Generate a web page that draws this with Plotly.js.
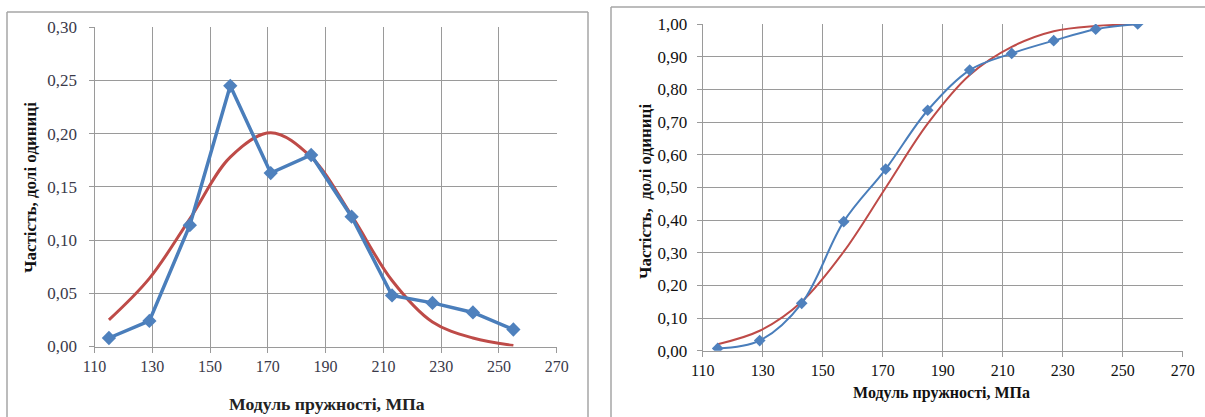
<!DOCTYPE html>
<html><head><meta charset="utf-8">
<script src="https://cdn.plot.ly/plotly-3.0.1.min.js"></script>
<style>body{margin:0;background:#fff}#c{width:1205px;height:417px}
#c svg text{font-family:'Liberation Serif' !important}</style></head>
<body><div id="c"></div><script>
const modulus = [115,129,143,157,171,185,199,213,227,241,255];
const freqObserved = [0.008,0.024,0.114,0.245,0.163,0.180,0.122,0.048,0.041,0.032,0.016];
const freqTheoretical = [0.025,0.064,0.120,0.178,0.201,0.178,0.123,0.062,0.023,0.008,0.001];
const cumObserved = [0.007,0.031,0.145,0.395,0.556,0.736,0.859,0.910,0.949,0.984,1.000];
const cumTheoretical = [0.020,0.061,0.150,0.303,0.499,0.695,0.844,0.930,0.978,0.994,0.999];
const xTickVals = [110,130,150,170,190,210,230,250,270];
const xTitle = 'Модуль пружності, МПа';
const yTitleLeft = 'Частість, долі одиниці';
const yTitleRight = 'Частість,  долі одиниці';

const W = 1205, H = 417;
const px = v => v / W, py = v => (H - v) / H;
const BLUE = '#4A7EBB', BLUE_M = '#4F81BD', RED = '#BE4B48';
const GRID = '#9a9a9a', FRAME = '#a6a6a6';
const serif = 'Liberation Serif';

const traces = [
  {x: modulus, y: freqTheoretical, xaxis: 'x', yaxis: 'y', mode: 'lines',
   line: {color: RED, width: 3, shape: 'spline', smoothing: 1}},
  {x: modulus, y: freqObserved, xaxis: 'x', yaxis: 'y', mode: 'lines+markers',
   line: {color: BLUE, width: 3.5}, marker: {symbol: 'diamond', size: 11, color: BLUE_M}},
  {x: modulus, y: cumTheoretical, xaxis: 'x2', yaxis: 'y2', mode: 'lines',
   line: {color: RED, width: 2, shape: 'spline', smoothing: 1}},
  {x: modulus, y: cumObserved, xaxis: 'x2', yaxis: 'y2', mode: 'lines+markers',
   line: {color: BLUE, width: 2, shape: 'spline', smoothing: 1}, marker: {symbol: 'diamond', size: 9, color: BLUE_M}}
];

function xax(domain, anchor, col) {
  return {domain, anchor, range: [110, 270], tickvals: xTickVals, ticks: 'outside', ticklen: 5,
    tickcolor: GRID, showgrid: true, gridcolor: GRID, gridwidth: 1, zeroline: false,
    showline: true, linecolor: GRID, fixedrange: true,
    tickfont: {family: serif, size: 16, color: col}};
}
function yax(domain, anchor, range, dtick, col, standoff, size) {
  return {domain, anchor, range, dtick, tick0: 0, tickformat: '.2f', ticks: 'outside', ticklen: 5,
    tickcolor: GRID, showgrid: true, gridcolor: GRID, gridwidth: 1, zeroline: false,
    showline: true, linecolor: GRID, fixedrange: true, ticklabelstandoff: standoff,
    tickfont: {family: serif, size: size, color: col}};
}

const layout = {
  width: W, height: H, margin: {l: 0, r: 0, t: 0, b: 0},
  paper_bgcolor: '#fff', plot_bgcolor: '#fff', showlegend: false, separators: ', ',
  xaxis: xax([px(94.5), px(556.7)], 'y', '#3a3a4a'),
  yaxis: yax([py(346.5), py(27.3)], 'x', [0, 0.30], 0.05, '#3a3a4a', 8, 17),
  xaxis2: xax([px(702.7), px(1182.7)], 'y2', '#111'),
  yaxis2: yax([py(350.7), py(24)], 'x2', [0, 1], 0.1, '#111', 6, 17),
  shapes: [
    {type: 'line', xref: 'paper', yref: 'paper', x0: px(7), x1: px(7), y0: -0.1, y1: py(12), line: {color: FRAME, width: 1.5}},
    {type: 'line', xref: 'paper', yref: 'paper', x0: px(7), x1: px(588), y0: py(12), y1: py(12), line: {color: FRAME, width: 1.5}},
    {type: 'line', xref: 'paper', yref: 'paper', x0: px(588), x1: px(588), y0: -0.1, y1: py(12), line: {color: FRAME, width: 1.5}},
    {type: 'line', xref: 'paper', yref: 'paper', x0: px(611), x1: px(611), y0: -0.1, y1: py(7), line: {color: FRAME, width: 1.5}},
    {type: 'line', xref: 'paper', yref: 'paper', x0: px(611), x1: 1.1, y0: py(7), y1: py(7), line: {color: FRAME, width: 1.5}}
  ],
  annotations: [
    {text: xTitle, x: px(327), y: py(403.5), size: 17.7, color: '#222', angle: 0},
    {text: xTitle, x: px(941.5), y: py(393), size: 16, color: '#111', angle: 0},
    {text: yTitleLeft, x: px(30), y: py(188), size: 17, color: '#111', angle: -90},
    {text: yTitleRight, x: px(645), y: py(192), size: 17, color: '#111', angle: -90}
  ].map(a => ({text: '<b>' + a.text + '</b>', xref: 'paper', yref: 'paper', x: a.x, y: a.y,
      showarrow: false, textangle: a.angle, xanchor: 'center', yanchor: 'middle',
      font: {family: serif, size: a.size, color: a.color}}))
};

Plotly.newPlot('c', traces, layout, {staticPlot: true, displayModeBar: false});
</script></body></html>
